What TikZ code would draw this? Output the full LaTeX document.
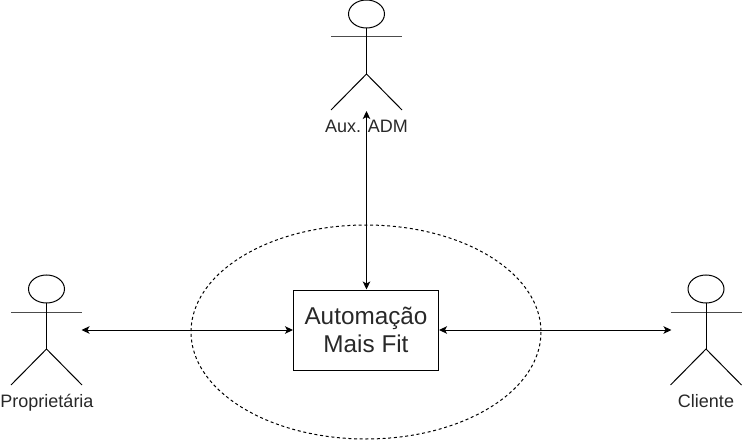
\documentclass[tikz,border=0pt]{standalone}
\usepackage{fontspec}
\setmainfont{Liberation Sans}
\usetikzlibrary{arrows.meta}
\definecolor{txt}{RGB}{40,40,40}
\tikzset{
  x=1pt,y=-1pt,
  line/.style={draw=black,line width=1pt},
  conn/.style={line,{Stealth[length=8pt,width=7.5pt,inset=2pt]}-{Stealth[length=8pt,width=7.5pt,inset=2pt]}},
  actorlabel/.style={font=\fontsize{18}{20}\selectfont,text=txt,inner sep=0pt,anchor=base},
  actor/.pic={
    \draw[line] (0,-41) ellipse [x radius=18,y radius=14];
    \draw[draw=black!70,line width=1pt] (-35.5,-18) -- (35.5,-18);
    \draw[line] (0,-27) -- (0,19);
    \draw[line] (-35.5,55) -- (0,19) -- (35.5,55);
  }
}
\begin{document}
\begin{tikzpicture}
\useasboundingbox (0,0) rectangle (742,441);
\draw[line width=1pt,dash pattern=on 3pt off 2.7pt] (366,332) ellipse [x radius=175,y radius=107];
\node[draw=black,line width=1pt,minimum width=145pt,minimum height=80pt,inner sep=0pt,align=center,font=\fontsize{24.3}{28}\selectfont,text=txt] (box) at (366,330) {Automação\\Mais Fit};
\pic at (366.5,55) {actor};
\pic at (46.5,330) {actor};
\pic at (706,330) {actor};
\node[actorlabel] (adm) at (366.5,133) {Aux. ADM};
\node[actorlabel] (prop) at (47,407) {Proprietária};
\node[actorlabel] (cli) at (706,407) {Cliente};
\coordinate (admend) at (366.5,111);
\coordinate (propend) at (81.5,330);
\coordinate (cliend) at (671.5,330);
\draw[conn] (admend) -- (admend |- box.north);
\draw[conn] (propend) -- (box.west);
\draw[conn] (cliend) -- (box.east);
\end{tikzpicture}
\end{document}
